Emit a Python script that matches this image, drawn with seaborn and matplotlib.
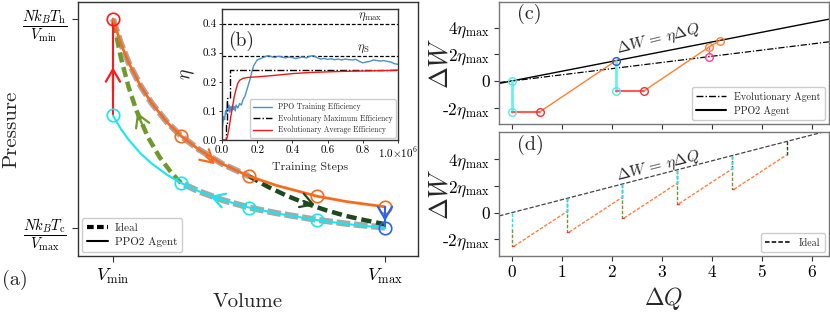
import matplotlib
matplotlib.use('Agg')
import matplotlib.pyplot as plt
import seaborn as sns
from matplotlib.lines import Line2D

# ---------------- data ----------------
# (a) PV diagram (V in units of V_min, P in units of N k_B T_h / V_min)
vol_grid = [1.0, 1.1, 1.2, 1.35, 1.5, 1.7, 1.875, 2.1, 2.4, 2.75, 3.1, 3.625, 4.0, 4.5]
p_hot_agent = [1.0, 0.90, 0.82, 0.725, 0.65, 0.57, 0.515, 0.46, 0.40, 0.348, 0.31, 0.265, 0.243, 0.221]
p_cold_agent = [0.6, 0.545, 0.5, 0.444, 0.4, 0.353, 0.32, 0.286, 0.25, 0.218, 0.194, 0.166, 0.15, 0.133]
v_marks = [1.0, 1.875, 2.75, 3.625, 4.5]
p_hot_marks = [1.0, 0.515, 0.348, 0.265, 0.221]
p_cold_marks = [0.6, 0.32, 0.218, 0.166, 0.133]

ideal_hot_v = [1.0, 1.1, 1.2, 1.35, 1.5, 1.7, 1.875, 2.1, 2.4, 2.75]
ideal_hot_p = [1.0, 0.90, 0.82, 0.725, 0.65, 0.57, 0.515, 0.46, 0.40, 0.348]
ideal_comp_v = [1.875, 1.75, 1.6, 1.45, 1.3, 1.2, 1.1, 1.0]
ideal_comp_p = [0.32, 0.363, 0.427, 0.51, 0.622, 0.719, 0.842, 1.0]
ideal_exp_v = [2.75, 3.0, 3.25, 3.5, 3.75, 4.0, 4.25, 4.5]
ideal_exp_p = [0.348, 0.303, 0.265, 0.233, 0.206, 0.183, 0.165, 0.149]
ideal_cold_v = [4.5, 4.0, 3.625, 3.1, 2.75, 2.4, 2.1, 1.875]
ideal_cold_p = [0.135, 0.151, 0.167, 0.195, 0.218, 0.25, 0.286, 0.32]

# (b) training efficiency (steps in units of 1e6)
ppo_steps = [0.0, 0.005, 0.01, 0.015, 0.02, 0.025, 0.03, 0.035, 0.04, 0.045, 0.05, 0.055, 0.06,
             0.065, 0.07, 0.075, 0.08, 0.09, 0.1, 0.11, 0.12, 0.13, 0.14, 0.15, 0.16, 0.17, 0.18,
             0.19, 0.2, 0.22, 0.24, 0.26, 0.28, 0.3, 0.32, 0.34, 0.36, 0.38, 0.4, 0.42, 0.44, 0.46,
             0.48, 0.5, 0.52, 0.54, 0.56, 0.58, 0.6, 0.62, 0.64, 0.66, 0.68, 0.7, 0.72, 0.74, 0.76,
             0.78, 0.8, 0.82, 0.84, 0.86, 0.88, 0.9, 0.92, 0.94, 0.96, 0.98, 1.0]
ppo_eff = [0.03, 0.06, 0.08, 0.07, 0.10, 0.09, 0.13, 0.10, 0.12, 0.095, 0.115, 0.10, 0.12,
           0.105, 0.115, 0.10, 0.12, 0.11, 0.125, 0.12, 0.14, 0.15, 0.17, 0.19, 0.21, 0.235, 0.255,
           0.265, 0.275, 0.28, 0.285, 0.29, 0.287, 0.283, 0.288, 0.285, 0.282, 0.285, 0.283, 0.28,
           0.283, 0.285, 0.282, 0.288, 0.29, 0.283, 0.278, 0.28, 0.277, 0.279, 0.276, 0.278, 0.275,
           0.278, 0.276, 0.275, 0.277, 0.27, 0.265, 0.268, 0.27, 0.275, 0.273, 0.271, 0.273, 0.27,
           0.268, 0.262, 0.26]
evo_max_steps = [0.0, 0.02, 0.02, 0.03, 0.03, 0.045, 0.045, 1.0]
evo_max_eff = [0.0, 0.0, 0.05, 0.05, 0.145, 0.145, 0.24, 0.24]
evo_avg_steps = [0.0, 0.02, 0.03, 0.04, 0.05, 0.06, 0.07, 0.08, 0.09, 0.1, 0.12, 0.15, 0.2,
                 0.3, 0.4, 0.5, 0.6, 0.7, 0.8, 0.9, 1.0]
evo_avg_eff = [0.0, 0.0, 0.01, 0.04, 0.08, 0.115, 0.15, 0.175, 0.195, 0.205, 0.212, 0.215, 0.217,
               0.222, 0.228, 0.232, 0.234, 0.236, 0.237, 0.238, 0.24]
eta_max = 0.4
eta_s = 0.29
b_xticks = [0.0, 0.2, 0.4, 0.6, 0.8, 1.0]
b_xticklabels = ['0.0', '0.2', '0.4', '0.6', '0.8', r'1.0$\times10^{6}$']

# (c) agents in the (dQ, dW) plane (dW in units of eta_max)
line_q = [-0.25, 6.4]
ppo_line_w = [-0.18, 4.67]
evo_line_w = [-0.115, 2.96]
c_cold_q = [[0.0, 0.0], [2.086, 2.086]]
c_cold_w = [[0.0, -2.3], [1.52, -0.73]]
c_heat_q = [[0.0, 0.566], [2.086, 2.652]]
c_heat_w = [[-2.3, -2.3], [-0.73, -0.73]]
c_hot_q = [[0.566, 2.086], [2.652, 3.95, 4.166]]
c_hot_w = [[-2.3, 1.52], [-0.73, 2.55, 3.03]]
c_evo_q = [3.95, 3.95]
c_evo_w = [2.55, 1.80]

# (d) ideal Carnot cycles
ideal_line_w = [-0.24, 6.2]
cyc_q = [0.0, 1.1, 2.2, 3.3, 4.4, 5.5]
cyc_top = [0.0, 1.07, 2.14, 3.21, 4.28, 5.35]
cyc_cold_end = [-1.2, -0.13, 0.94, 2.01, 3.08]
cyc_bottom = [-2.5, -1.45, -0.4, 0.68, 1.75]
cyc_red_end = [0.05, 1.15, 2.25, 3.35, 4.45]
cyc_hot_end = [0.07, 1.12, 2.17, 3.25, 4.32]

yticks_cd = [-2, 0, 2, 4]
yticklabels_cd = [r'-2$\eta_{\rm max}$', '0', r'2$\eta_{\rm max}$', r'4$\eta_{\rm max}$']

# ---------------- style ----------------
sns.set_style('ticks')
plt.rcParams.update({
    'font.family': 'serif',
    'font.serif': ['cmr10'],
    'mathtext.fontset': 'cm',
    'axes.unicode_minus': False,
    'axes.formatter.use_mathtext': True,
    'axes.edgecolor': '#333333',
    'axes.linewidth': 1.0,
    'xtick.color': '#333333',
    'ytick.color': '#333333',
    'xtick.labelcolor': 'black',
    'ytick.labelcolor': 'black',
    'legend.fancybox': True,
    'legend.framealpha': 1.0,
    'legend.edgecolor': '#cccccc',
})

ORANGE = '#fb6a1c'
CYAN = '#18e6f0'
RED = '#ff1a1a'
BLUE = '#2a63f0'
OLIVE = '#6d9a2a'
DKGREEN = '#1d4a1d'
GRAY = '#a8a8a8'


def line(ax, x, y, dashes=None, **kw):
    sns.lineplot(x=x, y=y, ax=ax, sort=False, estimator=None, legend=False, **kw)
    ln = ax.lines[-1]
    if dashes is not None:
        ln.set_dashes(dashes)
    return ln


fig = plt.figure(figsize=(8.3, 3.14), dpi=100)
W, H = 830.0, 314.0
axA = fig.add_axes([78 / W, 1 - 256 / H, 340 / W, 254 / H])
axB = fig.add_axes([222 / W, 1 - 140 / H, 176 / W, 131 / H])
axC = fig.add_axes([499 / W, 1 - 124 / H, 330 / W, 122 / H])
axD = fig.add_axes([499 / W, 1 - 256 / H, 330 / W, 124 / H])

# ---------------- (a) ----------------
line(axA, ideal_hot_v, ideal_hot_p, color=GRAY, lw=4.5, dashes=(2.2, 0.6))
line(axA, ideal_cold_v, ideal_cold_p, color=GRAY, lw=4.5, dashes=(2.2, 0.6))
line(axA, ideal_comp_v, ideal_comp_p, color=OLIVE, lw=3.2, dashes=(2.3, 1.1))
line(axA, ideal_exp_v, ideal_exp_p, color=DKGREEN, lw=3.2, dashes=(2.3, 1.1))

line(axA, [v_marks[0], v_marks[0]], [p_cold_marks[0], p_hot_marks[0]], color=RED, lw=1.5)
line(axA, vol_grid, p_hot_agent, color=ORANGE, lw=2.0)
line(axA, [v_marks[-1], v_marks[-1]], [p_hot_marks[-1], p_cold_marks[-1]], color=BLUE, lw=1.5)
line(axA, vol_grid, p_cold_agent, color=CYAN, lw=1.5)

mk = dict(marker='o', ms=9, mfc='none', mew=1.2, ls='none')
axA.plot(v_marks[1:], p_hot_marks[1:], color=ORANGE, **mk)
axA.plot(v_marks[:-1], p_cold_marks[:-1], color=CYAN, **mk)
axA.plot([v_marks[0]], [p_hot_marks[0]], color=RED, **mk)
axA.plot([v_marks[-1]], [p_cold_marks[-1]], color=BLUE, **mk)


def chevron(ax, tail, tip, color):
    ax.annotate('', xy=tip, xytext=tail,
                arrowprops=dict(arrowstyle='->,head_length=0.55,head_width=0.32',
                                color=color, lw=1.6, mutation_scale=16,
                                shrinkA=0, shrinkB=0))


chevron(axA, (1.0, 0.70), (1.0, 0.80), RED)
chevron(axA, (1.4, 0.544), (1.31, 0.613), OLIVE)
chevron(axA, (2.2, 0.43), (2.31, 0.398), ORANGE)
chevron(axA, (3.45, 0.245), (3.6, 0.228), DKGREEN)
chevron(axA, (4.5, 0.2), (4.5, 0.162), BLUE)
chevron(axA, (2.4, 0.25), (2.25, 0.266), CYAN)

axA.set_xlim(0.55, 4.925)
axA.set_ylim(0.017, 1.0705)
axA.set_xticks([v_marks[0], v_marks[-1]])
axA.set_xticklabels([r'$V_{\rm min}$', r'$V_{\rm max}$'], fontsize=13)
axA.set_yticks([p_cold_marks[-1], p_hot_marks[0]])
axA.set_yticklabels([r'$\dfrac{Nk_BT_{\rm c}}{V_{\rm max}}$', r'$\dfrac{Nk_BT_{\rm h}}{V_{\rm min}}$'],
                    fontsize=10.5)
axA.tick_params(length=4, width=0.8, pad=4)
axA.set_xlabel('Volume', fontsize=15, labelpad=5)
axA.set_ylabel('Pressure', fontsize=15)
axA.yaxis.set_label_coords(-0.171, 0.5)
leg_h = [Line2D([], [], color='k', lw=3, dashes=(1.6, 0.8)), Line2D([], [], color='k', lw=1.5)]
axA.legend(leg_h, ['Ideal', 'PPO2 Agent'], loc='lower left', fontsize=8,
           handlelength=1.9, handletextpad=0.6, borderpad=0.45, labelspacing=0.35,
           borderaxespad=0.35)
fig.text(2 / W, 1 - 280 / H, '(a)', fontsize=14.5, ha='left', va='center')

# ---------------- (b) inset ----------------
axB.axhline(eta_max, color='k', lw=0.9, ls=(0, (3, 1.5)))
axB.axhline(eta_s, color='k', lw=0.9, ls=(0, (3, 1.5)))
line(axB, ppo_steps, ppo_eff, color='#4a8fd0', lw=1.0)
line(axB, evo_max_steps, evo_max_eff, color='k', lw=1.0, dashes=(5, 1.5, 1, 1.5))
line(axB, evo_avg_steps, evo_avg_eff, color='#f01818', lw=1.0)
axB.text(0.84, eta_max + 0.002, r'$\eta_{\rm max}$', fontsize=9, ha='center', va='bottom')
axB.text(0.80, eta_s + 0.002, r'$\eta_{\rm S}$', fontsize=9, ha='center', va='bottom')
axB.text(0.034, 0.342, '(b)', fontsize=14, ha='left', va='center')
axB.set_xlim(0, 1.0)
axB.set_ylim(0, 0.45)
axB.set_xticks(b_xticks)
axB.set_xticklabels(b_xticklabels, fontsize=8)
axB.set_yticks([0.0, 0.1, 0.2, 0.3, 0.4])
axB.set_yticklabels(['0.0', '0.1', '0.2', '0.3', '0.4'], fontsize=8)
axB.tick_params(length=2.5, width=0.7, pad=1.5)
axB.set_xlabel('Training Steps', fontsize=8.5, labelpad=1)
axB.set_ylabel(r'$\eta$', fontsize=14)
axB.yaxis.set_label_coords(-0.142, 0.5)
legB = [Line2D([], [], color='#4a8fd0', lw=1.0),
        Line2D([], [], color='k', lw=1.0, dashes=(5, 1.5, 1, 1.5)),
        Line2D([], [], color='#f01818', lw=1.0)]
axB.legend(legB, ['PPO Training Efficiency', 'Evolutionary Maximum Efficiency',
                  'Evolutionary Average Efficiency'], loc='lower right', fontsize=5.5,
           handlelength=2.4, borderpad=0.45, labelspacing=0.4, borderaxespad=0.3)

# ---------------- (c) ----------------
line(axC, line_q, ppo_line_w, color='k', lw=1.0)
line(axC, line_q, evo_line_w, color='k', lw=0.9, dashes=(5, 1.5, 1, 1.5))
for q, w in zip(c_cold_q, c_cold_w):
    line(axC, q, w, color='#66f2f2', lw=2.0)
for q, w in zip(c_heat_q, c_heat_w):
    line(axC, q, w, color='#ff5a5a', lw=1.5)
for q, w in zip(c_hot_q, c_hot_w):
    line(axC, q, w, color='#ff8030', lw=1.0)
line(axC, c_evo_q, c_evo_w, color='#ff3f8f', lw=1.0, dashes=(2, 1))
mc = dict(marker='o', ms=5.5, mfc='none', mew=1.0, ls='none')
axC.plot([c_cold_q[0][0], c_cold_q[0][1], c_cold_q[1][1]],
         [c_cold_w[0][0], c_cold_w[0][1], c_cold_w[1][1]], color='#55e8ee', **mc)
axC.plot([c_heat_q[0][1], c_heat_q[1][1]], [c_heat_w[0][1], c_heat_w[1][1]], color='#f03030', **mc)
axC.plot([c_hot_q[0][1]], [c_hot_w[0][1]], color='#3050d0', **mc)
axC.plot(c_hot_q[1][1:], c_hot_w[1][1:], color='#ff8030', **mc)
axC.plot([c_evo_q[1]], [c_evo_w[1]], color='#ff3f8f', **mc)
axC.text(2.93, 3.07, r'$\Delta W\,=\,\eta\Delta Q$', fontsize=11.5, rotation=14,
         ha='center', va='center', rotation_mode='anchor')
axC.text(0.1, 5.0, '(c)', fontsize=14.5, ha='left', va='center')
axC.set_xlim(-0.254, 6.35)
axC.set_ylim(-3.22, 5.92)
axC.set_xticks(range(7))
axC.tick_params(axis='x', labelbottom=False)
axC.set_yticks(yticks_cd)
axC.set_yticklabels(yticklabels_cd, fontsize=12.5)
axC.tick_params(length=3.5, width=0.8, pad=3)
axC.set_ylabel(r'$\Delta W$', fontsize=19)
axC.yaxis.set_label_coords(-0.142, 0.5)
legC = [Line2D([], [], color='k', lw=1.0, dashes=(5, 1.5, 1, 1.5)), Line2D([], [], color='k', lw=1.5)]
axC.legend(legC, ['Evolutionary Agent', 'PPO2 Agent'], loc='lower right', fontsize=7.2,
           handlelength=3.0, borderpad=0.45, labelspacing=0.4, borderaxespad=0.4)

# ---------------- (d) ----------------
line(axD, line_q, ideal_line_w, color='#444444', lw=0.9, dashes=(3.5, 1.5))
dd = (2.5, 1.2)
for i in range(5):
    qn = cyc_q[i + 1]
    line(axD, [cyc_q[i], cyc_q[i]], [cyc_cold_end[i], cyc_bottom[i]], color=OLIVE, lw=1.0, dashes=dd)
    line(axD, [cyc_q[i], cyc_red_end[i]], [cyc_bottom[i], cyc_bottom[i]], color='#ff3030', lw=1.0)
    line(axD, [cyc_red_end[i], qn], [cyc_bottom[i], cyc_hot_end[i]], color='#ff8040', lw=1.0, dashes=dd)
    line(axD, [qn, qn], [cyc_hot_end[i], cyc_top[i + 1]], color=DKGREEN, lw=1.0, dashes=dd)
for i in range(5):
    line(axD, [cyc_q[i], cyc_q[i]], [cyc_top[i], cyc_cold_end[i]], color=CYAN, lw=1.0, dashes=dd)
axD.text(2.93, 3.45, r'$\Delta W\,=\,\eta\Delta Q$', fontsize=11.5, rotation=14,
         ha='center', va='center', rotation_mode='anchor')
axD.text(0.1, 5.1, '(d)', fontsize=14.5, ha='left', va='center')
axD.set_xlim(-0.254, 6.35)
axD.set_ylim(-3.24, 6.04)
axD.set_xticks(range(7))
axD.set_xticklabels([str(i) for i in range(7)], fontsize=12.5)
axD.set_yticks(yticks_cd)
axD.set_yticklabels(yticklabels_cd, fontsize=12.5)
axD.tick_params(length=3.5, width=0.8, pad=3)
axD.set_xlabel(r'$\Delta Q$', fontsize=17, labelpad=3)
axD.set_ylabel(r'$\Delta W$', fontsize=19)
axD.yaxis.set_label_coords(-0.142, 0.5)
legD = [Line2D([], [], color='#222222', lw=1.3, dashes=(2.5, 1.2))]
axD.legend(legD, ['Ideal'], loc='lower right', fontsize=7.2, handlelength=2.6,
           borderpad=0.45, borderaxespad=0.4)

for ax in (axC, axD):
    for s in ax.spines.values():
        s.set_edgecolor('#777777')

fig.savefig('out.png', dpi=100)
